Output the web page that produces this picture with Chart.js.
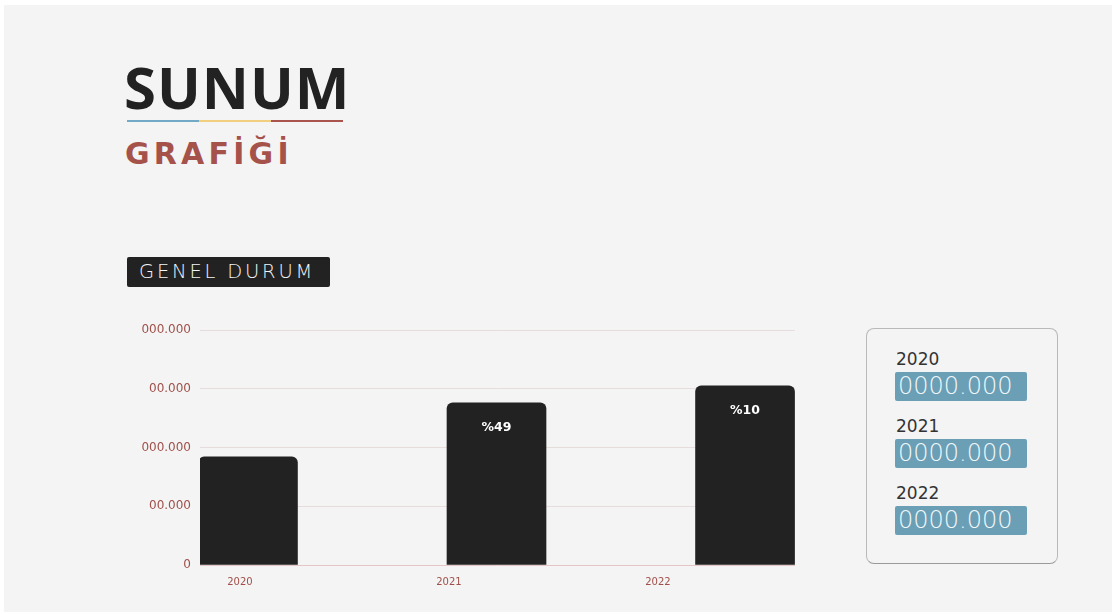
<!DOCTYPE html>
<html>
<head>
<meta charset="utf-8">
<script src="https://cdn.jsdelivr.net/npm/chart.js@4/dist/chart.umd.min.js"></script>
<style>
    body { margin: 0; background: #ffffff; width: 1112px; height: 614px; overflow: hidden; position: relative; }
    #panel { position: absolute; left: 4px; top: 5px; right: 0; bottom: 2px; background: #f4f4f4; }
    .abs { position: absolute; white-space: nowrap; }
    #title { left: 124px; top: 58px; font: 700 58px/58px "Open Sans"; color: #222222; letter-spacing: 1px; }
    #subtitle { left: 125px; top: 139px; font: 700 30px/30px "DejaVu Sans"; color: #a5524b; letter-spacing: 4.2px; }
    .rule { top: 120px; height: 2px; }
    #tag { left: 127px; top: 257px; width: 203px; height: 30px; background: #222222; border-radius: 2px;
           font: 200 19.5px/30px "DejaVu Sans"; color: #f4f4f4; letter-spacing: 2.8px; text-indent: 12px; }
    #chartBox { left: 120px; top: 310px; width: 675px; height: 285px; }
    #side { left: 866px; top: 328px; width: 190px; height: 234px; border: 1px solid #b9b9b9;
            border-bottom-color: #9a9a9a; border-radius: 8px; }
    .year { left: 896px; font: 17px/17px "DejaVu Sans"; color: #333333; }
    .amount { left: 895px; width: 132px; height: 29px; background: #6a9fb6; border-radius: 2px;
              font: 200 24px/29px "DejaVu Sans"; color: #f2f8fb; text-indent: 3px; }
</style>
</head>
<body>
<div id="panel"></div>
<div id="title" class="abs">SUNUM</div>
<div class="abs rule" style="left:127px;width:72px;background:#72aac6"></div>
<div class="abs rule" style="left:199px;width:72px;background:#f2cf7f"></div>
<div class="abs rule" style="left:271px;width:72px;background:#a9554d"></div>
<div id="subtitle" class="abs">GRAFİĞİ</div>
<div id="tag" class="abs">GENEL DURUM</div>
<div id="chartBox" class="abs"><canvas id="chart" width="675" height="285"></canvas></div>
<div id="side" class="abs"></div>
<div id="legend"></div>
<script>
// Chart values
const years = ['2020', '2021', '2022'];
const values = [1.84, 2.76, 3.05];
const barLabels = ['', '%49', '%10'];
const yTickLabels = ['0', '00.000', '000.000', '00.000', '000.000'];
const sideAmounts = ['0000.000', '0000.000', '0000.000'];

const tickColor = '#a0504a';

// Side panel with the yearly amounts
const sideTops = [352, 419, 486];
var legend = document.getElementById('legend');
for (var i = 0; i < years.length; ++i) {
    var y = document.createElement('div');
    y.className = 'abs year';
    y.style.top = (sideTops[i] - 1) + 'px';
    y.textContent = years[i];
    legend.appendChild(y);

    var a = document.createElement('div');
    a.className = 'abs amount';
    a.style.top = (sideTops[i] + 20) + 'px';
    a.textContent = sideAmounts[i];
    legend.appendChild(a);
}

// Draws the percentage text inside the bars
const barTextPlugin = {
    id: 'barText',
    afterDatasetsDraw(chart) {
        const ctx = chart.ctx;
        const meta = chart.getDatasetMeta(0);
        ctx.save();
        ctx.fillStyle = '#ffffff';
        ctx.font = 'bold 12.5px "DejaVu Sans"';
        ctx.textAlign = 'center';
        ctx.textBaseline = 'middle';
        meta.data.forEach((bar, i) => {
            if (barLabels[i]) {
                ctx.fillText(barLabels[i], bar.x, bar.y + 25);
            }
        });
        ctx.restore();
    }
};

new Chart(document.getElementById('chart'), {
    type: 'bar',
    data: {
        datasets: [{
            data: values.map((v, i) => ({ x: i, y: v })),
            backgroundColor: '#222222',
            borderRadius: 6,
            barThickness: 99,
        }]
    },
    options: {
        responsive: false,
        animation: false,
        maintainAspectRatio: false,
        layout: { padding: { top: 20, right: 0, left: 0, bottom: 0 } },
        plugins: { legend: { display: false }, tooltip: { enabled: false } },
        scales: {
            x: {
                type: 'linear',
                display: false,
                offset: false,
                min: -0.193,
                max: 2.201,
                grid: { offset: false },
            },
            xLabel: {
                type: 'linear',
                position: 'bottom',
                axis: 'x',
                offset: false,
                min: -0.191,
                max: 2.656,
                afterBuildTicks: (scale) => { scale.ticks = years.map((y, i) => ({ value: i })); },
                afterFit: (scale) => { scale.height = 30; },
                grid: { display: false, offset: false },
                border: { display: false },
                ticks: {
                    color: tickColor,
                    padding: 3,
                    maxRotation: 0,
                    font: { family: 'DejaVu Sans', size: 10 },
                    callback: (v, i) => years[i],
                }
            },
            y: {
                min: 0,
                max: 4,
                afterFit: (scale) => { scale.width = 80; },
                border: { display: false },
                grid: {
                    drawTicks: false,
                    color: (c) => c.tick && c.tick.value === 0 ? '#e4c6c6' : '#e7dcdc',
                },
                ticks: {
                    stepSize: 1,
                    padding: 9,
                    color: tickColor,
                    font: { family: 'DejaVu Sans', size: 12 },
                    callback: (v) => yTickLabels[v],
                }
            }
        }
    },
    plugins: [barTextPlugin]
});
</script>
</body>
</html>
